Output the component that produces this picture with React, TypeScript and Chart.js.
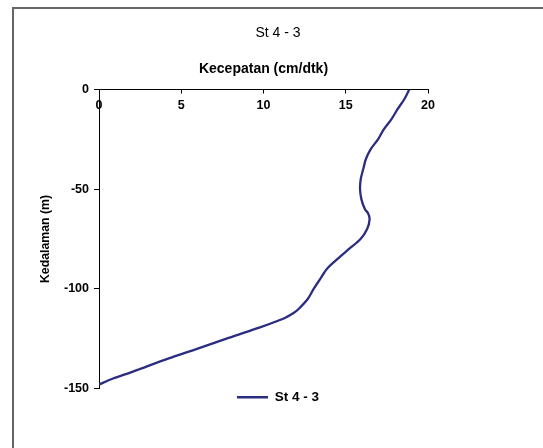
import React, { useEffect, useRef } from "react";
import { Chart, registerables } from "chart.js";

Chart.register(...registerables);

const chartTitle = "St 4 - 3";
const seriesName = "St 4 - 3";
const xAxisTitle = "Kecepatan (cm/dtk)";
const yAxisTitle = "Kedalaman (m)";

// depth (m) and velocity (cm/dtk)
const depth = [0, -5, -10, -15, -20, -25, -30, -35, -40, -45, -50, -55, -60, -62, -65, -70, -75, -80, -85, -90, -95, -100, -105, -110, -112, -115, -120, -125, -130, -135, -140, -142, -145, -148];
const speed = [18.86, 18.55, 18.14, 17.77, 17.31, 16.96, 16.51, 16.22, 16.06, 15.91, 15.87, 15.95, 16.16, 16.35, 16.45, 16.3, 15.9, 15.2, 14.5, 13.85, 13.45, 13.05, 12.7, 12.15, 11.85, 11.2, 9.55, 7.75, 6.0, 4.2, 2.55, 1.9, 0.85, 0];

const xTicks = [0, 5, 10, 15, 20];
const yTicks = [0, -50, -100, -150];

const FONT = "'Liberation Sans', Arial, sans-serif";
const LINE_COLOR = "#2a2d80";

export default function App() {
  const ref = useRef<HTMLCanvasElement | null>(null);

  useEffect(() => {
    if (!ref.current) return;
    const points = depth.map((d, i) => ({ x: speed[i], y: d }));
    const chart = new Chart(ref.current, {
      type: "scatter",
      data: {
        datasets: [
          {
            label: seriesName,
            data: points,
            showLine: true,
            borderColor: LINE_COLOR,
            backgroundColor: LINE_COLOR,
            borderWidth: 2.3,
            pointRadius: 0,
            pointHoverRadius: 0,
            tension: 0.3,
            xAxisID: "x",
            yAxisID: "y",
          },
        ],
      },
      options: {
        animation: false,
        responsive: true,
        maintainAspectRatio: false,
        devicePixelRatio: 1,
        layout: { padding: { left: 13, right: 0, top: 0, bottom: 34 } },
        plugins: {
          tooltip: { enabled: false },
          title: {
            display: true,
            text: chartTitle,
            color: "#000",
            font: { family: FONT, size: 14, weight: "normal" },
            padding: { top: 24.6, bottom: 0 },
          },
          legend: {
            display: true,
            position: "bottom",
            labels: {
              usePointStyle: true,
              pointStyle: "line",
              pointStyleWidth: 31,
              padding: 2,
              color: "#000",
              font: { family: FONT, size: 13.5, weight: "bold" },
            },
          },
        },
        scales: {
          x: {
            type: "linear",
            position: "top",
            min: 0,
            max: 20,
            afterBuildTicks: (s: any) => {
              s.ticks = xTicks.map((v) => ({ value: v }));
            },
            afterFit: (s: any) => {
              s.height = 48.1;
            },
            ticks: {
              mirror: true,
              padding: 9,
              color: "#000",
              font: { family: FONT, size: 12.5, weight: "bold" },
              maxRotation: 0,
            },
            grid: {
              drawOnChartArea: false,
              drawTicks: true,
              tickLength: -4,
              color: "#000",
            },
            border: { display: true, color: "#000", width: 1 },
            title: {
              display: true,
              text: xAxisTitle,
              color: "#000",
              font: { family: FONT, size: 14, weight: "bold" },
              padding: { top: 19.2, bottom: 0 },
            },
          },
          y: {
            type: "linear",
            position: "left",
            min: -150,
            max: 0,
            afterBuildTicks: (s: any) => {
              s.ticks = yTicks.map((v) => ({ value: v }));
            },
            afterFit: (s: any) => {
              s.width = 86;
            },
            ticks: {
              padding: 5,
              color: "#000",
              font: { family: FONT, size: 12.5, weight: "bold" },
            },
            grid: {
              drawOnChartArea: false,
              drawTicks: true,
              tickLength: 5,
              color: "#000",
            },
            border: { display: true, color: "#000", width: 1 },
            title: {
              display: true,
              text: yAxisTitle,
              color: "#000",
              font: { family: FONT, size: 12.3, weight: "bold" },
              padding: { top: 25.6, bottom: 0 },
            },
          },
          yRight: {
            type: "linear",
            position: "right",
            display: true,
            afterFit: (s: any) => {
              s.width = 115;
            },
            ticks: { display: false },
            grid: { display: false },
            border: { display: false },
          },
        },
      },
    });
    return () => chart.destroy();
  }, []);

  return (
    <div style={{ position: "absolute", left: 0, top: 0, width: 543, height: 448, background: "#fff" }}>
      <div
        style={{
          position: "absolute",
          left: 12,
          top: 7,
          width: 531,
          height: 441,
          borderLeft: "2px solid #666",
          borderTop: "2px solid #666",
          boxSizing: "border-box",
        }}
      />
      <canvas ref={ref} style={{ position: "absolute", left: 0, top: 0 }} />
    </div>
  );
}
